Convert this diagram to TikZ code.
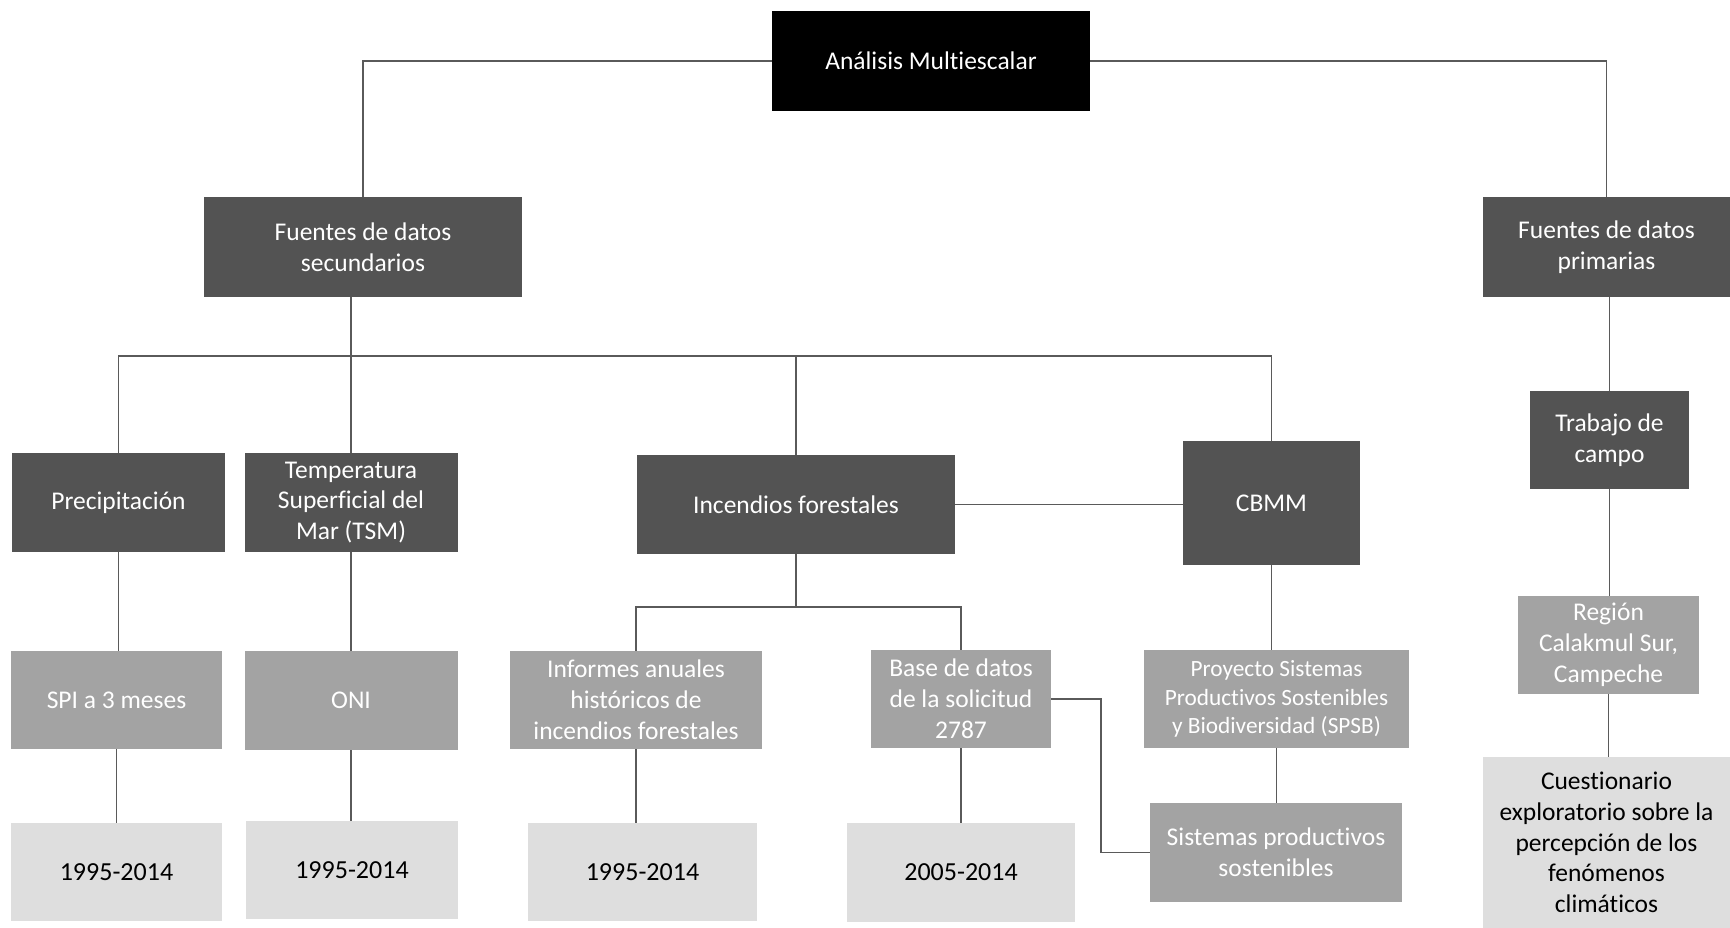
\documentclass[tikz,border=0pt]{standalone}
\usepackage{fontspec}
\setmainfont[Ligatures={NoCommon}]{Carlito}
\definecolor{cblack}{HTML}{000000}
\definecolor{cdark}{HTML}{535353}
\definecolor{cmed}{HTML}{A3A3A3}
\definecolor{clight}{HTML}{DEDEDE}
\definecolor{cline}{HTML}{5A5A5A}
\tikzset{
  box/.style={rectangle, inner sep=0pt, align=center, font=\fontsize{25.5}{30.8}\selectfont},
  topbox/.style={box, fill=cblack, text=white},
  darkbox/.style={box, fill=cdark, text=white},
  medbox/.style={box, fill=cmed, text=white},
  lightbox/.style={box, fill=clight, text=black, font=\fontsize{26}{30.8}\selectfont},
  conn/.style={draw=cline, line width=1.5pt},
}
\begin{document}
\begin{tikzpicture}[x=1pt,y=-1pt]
\useasboundingbox (0,0) rectangle (1730,928);
% level 0
\node[topbox, minimum width=318, minimum height=100] (ana) at (931,61) {Análisis Multiescalar};
% level 1
\node[darkbox, minimum width=318, minimum height=100] (sec) at (363,247) {Fuentes de datos\\secundarios};
\node[darkbox, minimum width=247, minimum height=100] (pri) at (1606.5,247) {Fuentes de datos\\primarias};
% level 2
\node[darkbox, minimum width=213, minimum height=99] (pre) at (118.5,502.5) {Precipitación};
\node[darkbox, minimum width=213, minimum height=99] (tsm) at (351,502.5) {Temperatura\\Superficial del\\Mar (TSM)};
\node[darkbox, minimum width=318, minimum height=99] (inc) at (796,504.5) {Incendios forestales};
\node[darkbox, minimum width=177, minimum height=124] (cbmm) at (1271.5,503) {CBMM};
\node[darkbox, minimum width=159, minimum height=98] (tra) at (1609.5,440) {Trabajo de\\campo};
% level 3
\node[medbox, minimum width=211, minimum height=98] (spi) at (116.5,700) {SPI a 3 meses};
\node[medbox, minimum width=213, minimum height=99] (oni) at (351,700.5) {ONI};
\node[medbox, minimum width=252, minimum height=98] (inf) at (636,700) {Informes anuales\\históricos de\\incendios forestales};
\node[medbox, minimum width=180, minimum height=98] (bas) at (961,699) {Base de datos\\de la solicitud\\2787};
\node[medbox, minimum width=265, minimum height=98, font=\fontsize{23.3}{28.5}\selectfont] (pro) at (1276.5,699) {Proyecto Sistemas\\Productivos Sostenibles\\y Biodiversidad (SPSB)};
\node[medbox, minimum width=181, minimum height=98] (reg) at (1608.5,645) {Región\\Calakmul Sur,\\Campeche};
% level 4
\node[lightbox, minimum width=211, minimum height=98] (y1) at (116.5,872) {1995-2014};
\node[lightbox, minimum width=212, minimum height=98] (y2) at (352,870) {1995-2014};
\node[lightbox, minimum width=229, minimum height=98] (y3) at (642.5,872) {1995-2014};
\node[lightbox, minimum width=228, minimum height=99] (y4) at (961,872.5) {2005-2014};
\node[medbox, minimum width=252, minimum height=99] (sis) at (1276,852.5) {Sistemas productivos\\sostenibles};
\node[lightbox, minimum width=247, minimum height=171, font=\fontsize{25.5}{30.7}\selectfont] (cue) at (1606.5,842.5) {Cuestionario\\exploratorio sobre la\\percepción de los\\fenómenos\\climáticos};
% connectors
\coordinate (bus) at (0,356);
\coordinate (bus2) at (0,607);
\coordinate (jog) at (1101,0);
\draw[conn] (ana.west) -| (sec.north);
\draw[conn] (ana.east) -| (pri.north);
\draw[conn] (sec.south -| tsm.north) -- (tsm.north);
\draw[conn] (pre.north) -- (pre.north |- bus) -- (cbmm.north |- bus) -- (cbmm.north);
\draw[conn] (inc.north |- bus) -- (inc.north);
\draw[conn] (inc.east) -- (inc.east -| cbmm.west);
\draw[conn] (tra.north |- pri.south) -- (tra.north);
\draw[conn] (tra.south) -- (tra.south |- reg.north);
\draw[conn] (reg.south) -- (reg.south |- cue.north);
\draw[conn] (pre.south) -- (pre.south |- spi.north);
\draw[conn] (spi.south) -- (spi.south |- y1.north);
\draw[conn] (tsm.south) -- (tsm.south |- oni.north);
\draw[conn] (oni.south) -- (oni.south |- y2.north);
\draw[conn] (inc.south) -- (inc.south |- bus2);
\draw[conn] (inf.north) -- (inf.north |- bus2) -- (bas.north |- bus2) -- (bas.north);
\draw[conn] (inf.south) -- (inf.south |- y3.north);
\draw[conn] (bas.south) -- (bas.south |- y4.north);
\draw[conn] (bas.east) -- (bas.east -| jog) -- (jog |- sis.west) -- (sis.west);
\draw[conn] (cbmm.south) -- (cbmm.south |- pro.north);
\draw[conn] (pro.south) -- (pro.south |- sis.north);
\end{tikzpicture}
\end{document}
